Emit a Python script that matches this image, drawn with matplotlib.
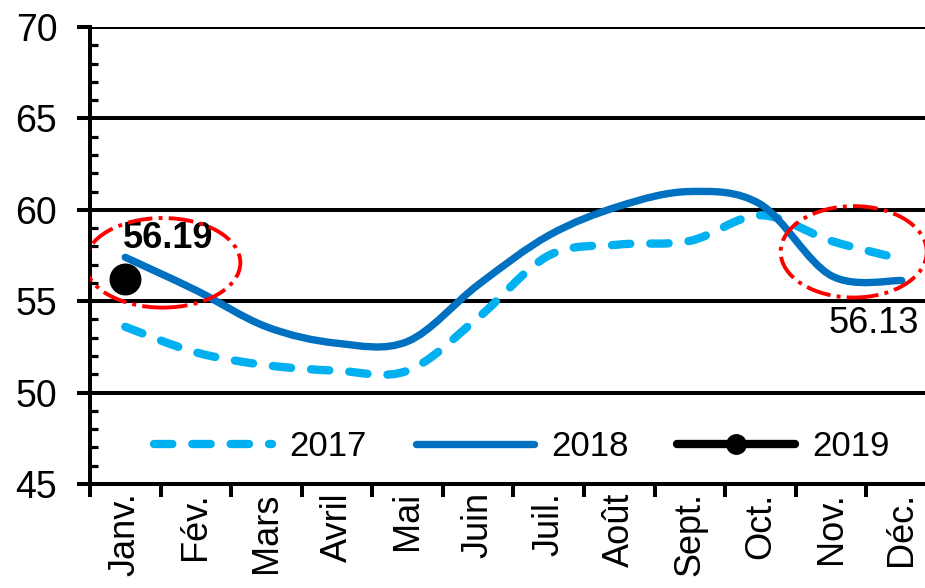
import matplotlib
matplotlib.use("Agg")
import matplotlib.pyplot as plt
from matplotlib.path import Path
from matplotlib.patches import PathPatch, Ellipse
from matplotlib.lines import Line2D
from matplotlib.ticker import FixedLocator, MultipleLocator

plt.rcParams["font.family"] = ["Liberation Sans Narrow", "Liberation Sans", "DejaVu Sans"]

months = ["Janv.", "Fév.", "Mars", "Avril", "Mai", "Juin", "Juil.",
          "Août", "Sept.", "Oct.", "Nov.", "Déc."]
values_2017 = [53.6, 52.2, 51.5, 51.2, 51.2, 54.1, 57.5, 58.1, 58.3, 59.7, 58.3, 57.3]
values_2018 = [57.4, 55.6, 53.6, 52.7, 52.8, 55.9, 58.6, 60.2, 61.0, 60.3, 56.4, 56.13]
values_2019 = [56.19]
y_ticks = [45, 50, 55, 60, 65, 70]

BLUE_LIGHT = "#00B0F0"
BLUE_DARK = "#0070C0"
RED = "#FF0000"


def smooth_path(ys):
    # Excel-style smoothed line: Catmull-Rom segments turned into cubic Beziers
    xs = list(range(len(ys)))
    pts = list(zip(xs, ys))
    verts = [pts[0]]
    codes = [Path.MOVETO]
    n = len(pts)
    for i in range(n - 1):
        p0 = pts[i - 1] if i > 0 else pts[i]
        p1 = pts[i]
        p2 = pts[i + 1]
        p3 = pts[i + 2] if i + 2 < n else pts[i + 1]
        c1 = (p1[0] + (p2[0] - p0[0]) / 6, p1[1] + (p2[1] - p0[1]) / 6)
        c2 = (p2[0] - (p3[0] - p1[0]) / 6, p2[1] - (p3[1] - p1[1]) / 6)
        verts += [c1, c2, p2]
        codes += [Path.CURVE4] * 3
    return Path(verts, codes)


fig = plt.figure(figsize=(9.25, 5.88), dpi=100)
ax = fig.add_axes([90 / 925, 1 - 484 / 588, 847 / 925, 457 / 588])
ax.set_xlim(-0.5, 11.5)
ax.set_ylim(45, 70)

for y in y_ticks[1:]:
    ax.axhline(y, color="black", lw=2.9, zorder=1)

style_2017 = dict(color=BLUE_LIGHT, lw=6.0, dashes=(2.2, 2.4), dash_capstyle="round")
style_2018 = dict(color=BLUE_DARK, lw=5.3, solid_capstyle="round")

p17 = PathPatch(smooth_path(values_2017), fill=False, edgecolor=BLUE_LIGHT, lw=6.0,
                linestyle=(0, (2.2, 2.4)), capstyle="round", zorder=3)
ax.add_patch(p17)
p18 = PathPatch(smooth_path(values_2018), fill=False, edgecolor=BLUE_DARK, lw=5.3,
                capstyle="round", zorder=4)
ax.add_patch(p18)
ax.plot(range(len(values_2019)), values_2019, "o", color="black", ms=22, zorder=5)

ax.text(0.6, 58.45, f"{values_2019[0]:.2f}", ha="center", va="center",
        fontsize=26, fontweight="bold", zorder=6)
ax.text(10.6, 53.8, f"{values_2018[-1]:.2f}", ha="center", va="center",
        fontsize=26, zorder=6)

ax.add_patch(Ellipse((0.53, 57.1), 2.2, 4.9, fill=False, edgecolor=RED, lw=2.8,
                     linestyle="-.", zorder=6))
ax.add_patch(Ellipse((10.32, 57.7), 2.07, 5.0, fill=False, edgecolor=RED, lw=2.8,
                     linestyle="-.", zorder=6))

# axes styling
for side in ("top", "right"):
    ax.spines[side].set_visible(False)
ax.spines["left"].set_linewidth(2.9)
ax.spines["bottom"].set_linewidth(2.9)

ax.yaxis.set_major_locator(FixedLocator(y_ticks))
ax.yaxis.set_minor_locator(MultipleLocator(1))
ax.set_yticklabels([str(v) for v in y_ticks])
ax.tick_params(axis="y", which="major", direction="out", length=9.5, width=2.9,
               labelsize=27, pad=14)
ax.tick_params(axis="y", which="minor", direction="in", length=6, width=2.3)

ax.xaxis.set_major_locator(FixedLocator([i - 0.5 for i in range(len(months) + 1)]))
ax.xaxis.set_minor_locator(FixedLocator(list(range(len(months)))))
ax.set_xticklabels([""] * (len(months) + 1))
ax.set_xticklabels(months, minor=True, rotation=90)
ax.tick_params(axis="x", which="major", direction="out", length=9, width=2.9)
ax.tick_params(axis="x", which="minor", length=0, labelsize=26, pad=6)

handles = [
    Line2D([], [], **style_2017),
    Line2D([], [], **style_2018),
    Line2D([], [], color="black", lw=6.0, marker="o", ms=14, solid_capstyle="round"),
]
ax.legend(handles, ["2017", "2018", "2019"], loc="center", bbox_to_anchor=(0.51, 0.081),
          ncol=3, frameon=False, fontsize=25, handlelength=3.4, handletextpad=0.5,
          columnspacing=1.4, borderaxespad=0)

fig.savefig("out.png", dpi=100)
